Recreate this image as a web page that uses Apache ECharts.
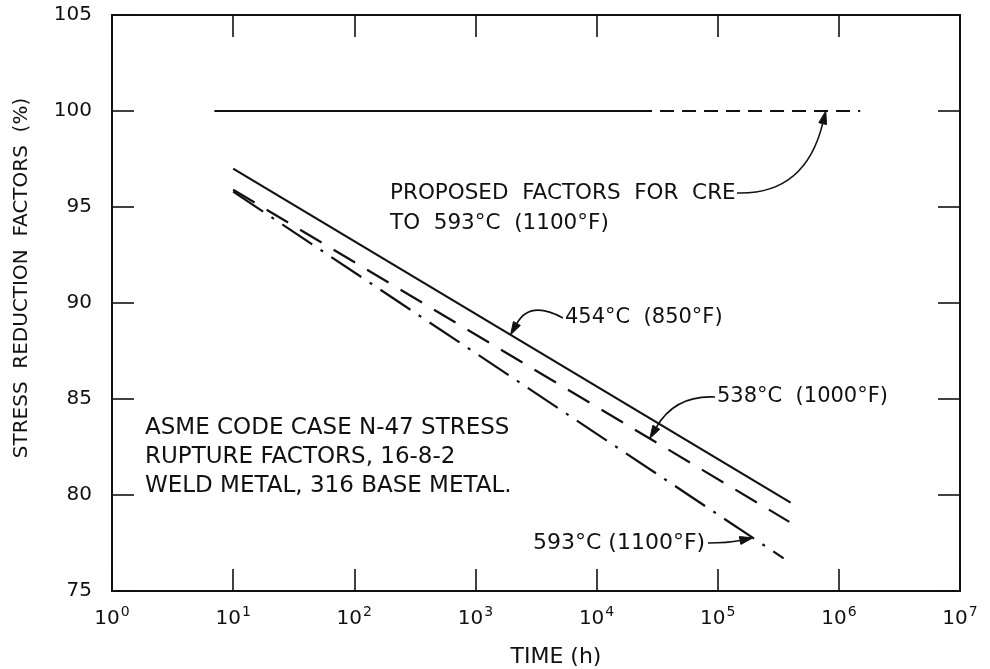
<!DOCTYPE html>
<html><head><meta charset="utf-8">
<script src="https://cdn.jsdelivr.net/npm/echarts@6/dist/echarts.min.js"></script>
<style>html,body{margin:0;padding:0;background:#fff}#c{width:990px;height:669px}</style>
</head><body><div id="c"></div>
<script>
// ---- data ----
const xMin = 1, xMax = 1e7;
const yMin = 75, yMax = 105, yStep = 5;
const creSolidTime = [7, 2.2e4];
const creSolidValue = [100, 100];
const creDashedTime = [2.2e4, 1.5e6];
const creDashedValue = [100, 100];
const c454Time = [10, 4e5];
const c454Value = [97, 79.6];
const c538Time = [10, 3.9e5];
const c538Value = [95.9, 78.6];
const c593Time = [10, 3.5e5];
const c593Value = [95.8, 76.7];
// annotation anchors (time on the curve)
const arrow454At = 1950;
const arrow538At = 2.75e4;
const arrow593At = 1.95e5;
const arrowCreAt = 7.8e5;

const INK = '#111';
const FONT = 'DejaVu Sans';
const pairs = (t, v) => t.map((x, i) => [x, v[i]]);
function valueAt(t, v, x) {
  const lx = Math.log10(x), l0 = Math.log10(t[0]), l1 = Math.log10(t[t.length - 1]);
  return v[0] + (v[v.length - 1] - v[0]) * (lx - l0) / (l1 - l0);
}

const chart = echarts.init(document.getElementById('c'), null, {renderer: 'canvas'});
const tickStyle = {show: true, inside: true, length: 22, lineStyle: {color: INK, width: 1.6}};
const lineSeries = (name, data, type) => ({
  name, type: 'line', data, symbol: 'none', xAxisIndex: 0, yAxisIndex: 0,
  lineStyle: {color: INK, width: 2.2, type: type, cap: 'butt'}, z: 3
});
chart.setOption({
  animation: false,
  backgroundColor: '#fff',
  grid: {left: 112, right: 30, top: 15, bottom: 78, show: true, borderColor: INK, borderWidth: 2, backgroundColor: 'transparent'},
  xAxis: [
    {type: 'log', logBase: 10, min: xMin, max: xMax, splitNumber: 7, position: 'bottom',
     axisLine: {show: false}, splitLine: {show: false}, minorTick: {show: false},
     axisTick: tickStyle,
     axisLabel: {margin: 14, color: INK, fontFamily: FONT,
       formatter: v => '{b|10}{s|' + Math.round(Math.log10(v)) + '}',
       rich: {b: {fontSize: 20, fontFamily: FONT, color: INK, lineHeight: 24, verticalAlign: 'bottom'},
              s: {fontSize: 14, fontFamily: FONT, color: INK, lineHeight: 24, verticalAlign: 'bottom', padding: [0, 0, 10, 1]}}}},
    {type: 'log', logBase: 10, min: xMin, max: xMax, splitNumber: 7, position: 'top',
     axisLine: {show: false}, splitLine: {show: false}, minorTick: {show: false},
     axisTick: tickStyle, axisLabel: {show: false}}
  ],
  yAxis: [
    {type: 'value', min: yMin, max: yMax, interval: yStep, position: 'left',
     axisLine: {show: false}, splitLine: {show: false}, axisTick: tickStyle,
     axisLabel: {margin: 20, color: INK, fontFamily: FONT, fontSize: 20}},
    {type: 'value', min: yMin, max: yMax, interval: yStep, position: 'right',
     axisLine: {show: false}, splitLine: {show: false}, axisTick: tickStyle,
     axisLabel: {show: false}}
  ],
  series: [
    lineSeries('CRE solid', pairs(creSolidTime, creSolidValue), 'solid'),
    lineSeries('CRE dashed', pairs(creDashedTime, creDashedValue), [14, 8]),
    lineSeries('454°C (850°F)', pairs(c454Time, c454Value), 'solid'),
    lineSeries('538°C (1000°F)', pairs(c538Time, c538Value), [25, 14]),
    lineSeries('593°C (1100°F)', pairs(c593Time, c593Value), [36, 10, 3, 10])
  ]
});

const px = (t, v) => chart.convertToPixel({xAxisIndex: 0, yAxisIndex: 0}, [t, v]);
function txt(text, x, y, size, align) {
  return {type: 'text', x, y, z: 10, style: {text, fill: INK, font: size + 'px "' + FONT + '"', textAlign: align || 'left', textVerticalAlign: 'middle'}};
}
function arrow(start, ctrl, tip) {
  const dx = tip[0] - ctrl[0], dy = tip[1] - ctrl[1];
  const L = Math.hypot(dx, dy), ux = dx / L, uy = dy / L;
  const len = 13, w = 4;
  const bx = tip[0] - ux * len, by = tip[1] - uy * len;
  return [
    {type: 'bezierCurve', z: 10, shape: {x1: start[0], y1: start[1], x2: bx, y2: by, cpx1: ctrl[0], cpy1: ctrl[1]},
     style: {stroke: INK, lineWidth: 1.6, fill: null}},
    {type: 'polygon', z: 10, shape: {points: [tip, [bx - uy * w, by + ux * w], [bx + uy * w, by - ux * w]]},
     style: {fill: INK, stroke: INK, lineWidth: 1}}
  ];
}

const tip454 = px(arrow454At, valueAt(c454Time, c454Value, arrow454At));
const tip538 = px(arrow538At, valueAt(c538Time, c538Value, arrow538At));
const tip593 = px(arrow593At, valueAt(c593Time, c593Value, arrow593At));
const tipCre = px(arrowCreAt, 100);

const g = [];
g.push(txt('PROPOSED  FACTORS  FOR  CRE', 390, 193, 21.5));
g.push(txt('TO  593°C  (1100°F)', 390, 223, 21.5));
g.push(txt('454°C  (850°F)', 565, 318, 21));
g.push(txt('538°C  (1000°F)', 717, 397, 21));
g.push(txt('593°C (1100°F)', 533, 543, 22));
g.push(txt('ASME CODE CASE N-47 STRESS', 145, 428, 23));
g.push(txt('RUPTURE FACTORS, 16-8-2', 145, 457, 23));
g.push(txt('WELD METAL, 316 BASE METAL.', 145, 486, 23));
g.push(txt('TIME (h)', 556, 657, 22, 'center'));
g.push({type: 'text', x: 22, y: 278, rotation: Math.PI / 2, z: 10,
  style: {text: 'STRESS  REDUCTION  FACTORS  (%)', fill: INK, font: '20px "' + FONT + '"', textAlign: 'center', textVerticalAlign: 'middle'}});
g.push(...arrow([737, 193], [805, 195], tipCre));
g.push(...arrow([563, 318], [530, 300], tip454));
g.push(...arrow([715, 397], [675, 395], tip538));
g.push(...arrow([708, 543], [728, 543], tip593));
chart.setOption({graphic: {elements: g}});
</script></body></html>
